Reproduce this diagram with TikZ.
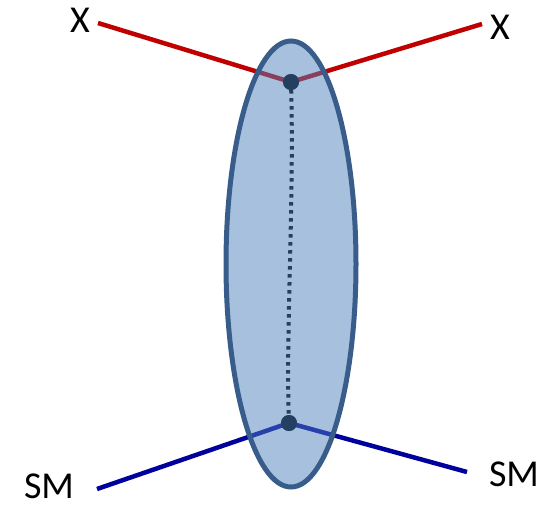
\documentclass[tikz,border=0pt]{standalone}
\usepackage{fontspec}
\setmainfont{Carlito}
\usepackage{xcolor}
\usepackage{tikz}
\usetikzlibrary{positioning}

\definecolor{xred}{HTML}{C00000}
\definecolor{smblue}{HTML}{00009C}
\definecolor{blobfill}{HTML}{4F81BD}
\definecolor{blobedge}{HTML}{385D8A}
\definecolor{vertex}{HTML}{243F60}

\begin{document}
\begin{tikzpicture}[x=1pt,y=-1pt,
    lbl/.style={font=\fontsize{38}{40}\selectfont, inner sep=0pt},
    vtx/.style={circle, fill=vertex, inner sep=0pt, minimum size=16pt}]
    \useasboundingbox (0,0) rectangle (540,509);
    % vertices and labels
    \node[vtx] (top) at (291,82) {};
    \node[vtx] (bot) at (289,423) {};
    \node[lbl] (xl) at (80,20) {X};
    \node[lbl] (xr) at (500,27) {X};
    \node[lbl] (sml) at (49,486) {SM};
    \node[lbl] (smr) at (514,474) {SM};
    \coordinate (xlend) at (98,23);
    \coordinate (xrend) at (482,24);
    \coordinate (smlend) at (97,489);
    \coordinate (smrend) at (467,472);
    % external legs
    \draw[xred, line width=4.5pt] (xlend) -- (top.center) -- (xrend);
    \draw[smblue, line width=4.5pt] (smlend) -- (bot.center) -- (smrend);
    % blob
    \draw[blobedge, line width=5pt, fill=blobfill, fill opacity=0.5]
        (291,264) ellipse [x radius=65, y radius=223];
    % exchange
    \draw[vertex, line width=4pt, dash pattern=on 3.5pt off 4.5pt]
        (top) .. controls (294,200) and (286,330) .. (bot);
    \node[vtx] at (top) {};
    \node[vtx] at (bot) {};
\end{tikzpicture}
\end{document}
